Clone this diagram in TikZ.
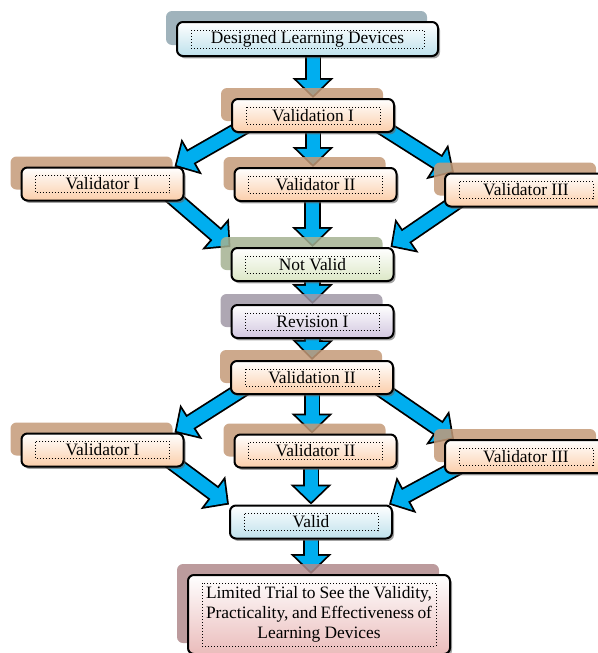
\documentclass[tikz,border=0pt]{standalone}
\usepackage{fontspec}
\setmainfont{Liberation Serif}
\usetikzlibrary{arrows.meta,shadows,backgrounds}

\definecolor{arrowblue}{RGB}{0,174,239}
\definecolor{peach}{RGB}{251,206,170}
\definecolor{tanshade}{RGB}{196,154,120}
\definecolor{iceblue}{RGB}{190,225,236}
\definecolor{slateshade}{RGB}{143,166,176}
\definecolor{sage}{RGB}{220,231,198}
\definecolor{sageshade}{RGB}{165,178,146}
\definecolor{lilac}{RGB}{210,199,224}
\definecolor{lilacshade}{RGB}{160,152,166}
\definecolor{rose}{RGB}{234,188,187}
\definecolor{roseshade}{RGB}{176,138,140}

\begin{document}
\begin{tikzpicture}[x=0.5pt,y=-0.5pt,
  stage/.style={draw=black, line width=1pt, rounded corners=3pt,
    top color=white, bottom color=#1,
    minimum width=81pt, minimum height=16.5pt, inner sep=0pt,
    font=\fontsize{8.7}{10}\selectfont,
    general shadow={fill=black!60, shadow xshift=1pt, shadow yshift=-1.2pt, opacity=.6},
    path picture={\draw[sharp corners, densely dotted, line width=.5pt]
      ([shift={(7pt,-4pt)}]path picture bounding box.north west) rectangle
      ([shift={(-7pt,4pt)}]path picture bounding box.south east);}},
  stage/.default=peach,
  backshade/.style={general shadow={fill=#1, shadow xshift=-5.5pt, shadow yshift=5.5pt, opacity=.85}},
  backshade/.default=tanshade,
  flow/.style={line width=6.5pt, draw=arrowblue, shorten >=1.27pt,
    -{Triangle[length=7.8pt,width=15.7pt]},
    preaction={draw=black, line width=8.3pt, shorten >=0pt,
      -{Triangle[length=10pt,width=20pt]}}}
]
\useasboundingbox (0,0) rectangle (598,653);

% first round
\node[stage=iceblue, backshade=slateshade, minimum width=130.5pt, minimum height=17pt] (dld) at (307.5,39) {Designed Learning Devices};
\node[stage, backshade] (v1) at (313,115.5) {Validation I};
\node[stage, backshade] (a1) at (102.5,184) {Validator I};
\node[stage, backshade] (b1) at (315.5,184.5) {Validator II};
\node[stage, backshade] (c1) at (526,190) {Validator III};
\node[stage=sage, backshade=sageshade] (nv) at (312.5,264.5) {Not Valid};
\node[stage=lilac, backshade=lilacshade] (rev) at (312.5,321.5) {Revision I};

% second round
\node[stage, backshade] (v2) at (312,377.5) {Validation II};
\node[stage, backshade] (a2) at (102.5,450) {Validator I};
\node[stage, backshade] (b2) at (315.5,451) {Validator II};
\node[stage, backshade] (c2) at (526,456.5) {Validator III};
\node[stage=iceblue] (ok) at (311,522) {Valid};
\node[stage=rose, backshade=roseshade, minimum width=131pt, minimum height=39.5pt, align=center] (trial) at (319,614.5)
  {\makebox[113pt][s]{Limited Trial to See the Validity,}\\
   \makebox[113pt][s]{Practicality, and Effectiveness of}\\
   Learning Devices};

\begin{pgfonlayer}{background}
\draw[flow] (dld.south -| v1) -- (v1.north);
\draw[flow] ([shift={(8pt,4pt)}]v1.south west) -- ([xshift=-5pt]a1.north east);
\draw[flow] (v1.south) -- (v1 |- b1.north);
\draw[flow] ([shift={(-8pt,4pt)}]v1.south east) -- ([xshift=5pt]c1.north west);
\draw[flow] ([shift={(-8pt,4pt)}]a1.south east) -- (nv.north west);
\draw[flow] (b1.south -| nv) -- (nv.north);
\draw[flow] ([shift={(8pt,4pt)}]c1.south west) -- ([xshift=-2pt]nv.north east);
\draw[flow] (nv.south) -- (rev.north);
\draw[flow] (rev.south) -- (v2.north);
\draw[flow] ([shift={(8pt,4pt)}]v2.south west) -- ([xshift=-5pt]a2.north east);
\draw[flow] (v2.south) -- (v2 |- b2.north);
\draw[flow] ([shift={(-8pt,4pt)}]v2.south east) -- ([xshift=5pt]c2.north west);
\draw[flow] ([shift={(-8pt,4pt)}]a2.south east) -- (ok.north west);
\draw[flow] (b2.south -| ok) -- (ok.north);
\draw[flow] ([shift={(8pt,4pt)}]c2.south west) -- ([xshift=-2pt]ok.north east);
\draw[flow] (ok.south) -- (ok |- trial.north);
\end{pgfonlayer}
\end{tikzpicture}
\end{document}
